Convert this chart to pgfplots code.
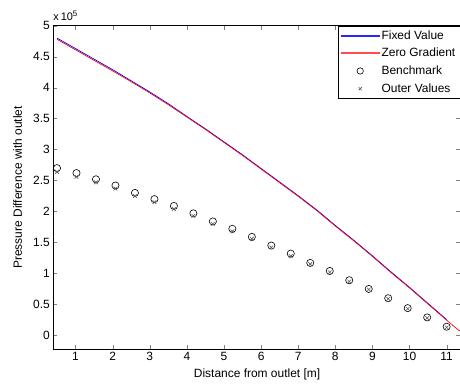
\documentclass[border=0pt]{standalone}
\usepackage{fontspec}
\setmainfont{Liberation Sans}
\usepackage{pgfplots}
\pgfplotsset{compat=1.18}
\usetikzlibrary{calc}
\pgfplotstableread{
x y
0.5 270000
1.025 262000
1.55 252000
2.075 242000
2.6 230000
3.125 220000
3.65 209000
4.175 197000
4.7 184000
5.225 172000
5.75 159000
6.275 145000
6.8 132000
7.325 117000
7.85 104000
8.375 89000
8.9 75000
9.425 60000
9.95 44000
10.475 29000
11.0 14000
}\bench
\pgfplotstableread{
x y
0.5 264000
1.025 256000
1.55 247000
2.075 237000
2.6 225000
3.125 215000
3.65 204000
4.175 193000
4.7 180000
5.225 168000
5.75 156000
6.275 142000
6.8 128000
7.325 115000
7.85 102000
8.375 87000
8.9 74000
9.425 59000
9.95 43000
10.475 28000
11.0 13000
}\outer
\pgfplotstableread{
x y
0.5 480000
1.0 463000
1.5 446000
2.0 429000
2.5 411000
3.0 393000
3.5 374000
4.0 353500
4.5 333500
5.0 312500
5.5 291500
6.0 269500
6.5 247500
7.0 225500
7.5 202500
8.0 177500
8.5 153500
9.0 128500
9.5 102500
10.0 77500
10.5 51500
11.0 25500
}\fixed
\pgfplotstableread{
x y
0.5 478000
1.0 461000
1.5 444000
2.0 427000
2.5 409500
3.0 391500
3.5 372500
4.0 352500
4.5 332500
5.0 311500
5.5 290500
6.0 268500
6.5 246500
7.0 224500
7.5 201500
8.0 176500
8.5 152500
9.0 127500
9.5 101500
10.0 76500
10.5 50500
11.0 24500
11.35 7000
}\zerog
\begin{document}
\begin{tikzpicture}
\begin{axis}[
  scale only axis,
  width=406.7bp, height=323.3bp,
  xmin=0.4, xmax=11.36,
  ymin=-22000, ymax=500000,
  xtick={1,2,...,11},
  ytick={0,50000,...,500000},
  scaled y ticks=base 10:-5,
  ytick scale label code/.code={x\,10\textsuperscript{\fontsize{8}{9}\selectfont #1}},
  every y tick scale label/.style={at={(rel axis cs:0,1)},anchor=south west,inner sep=0pt,yshift=5bp,font=\fontsize{11}{13}\selectfont},
  /pgf/number format/assume math mode=true,
  tick label style={font=\fontsize{12}{14}\selectfont},
  label style={font=\fontsize{12}{14}\selectfont},
  xlabel={Distance from outlet [m]},
  ylabel={Pressure Difference with outlet},
  x label style={at={(axis description cs:0.501,-0.080)},anchor=center},
  y label style={at={(axis description cs:-0.088,0.5)},anchor=center},
  major tick length=4bp,
  legend style={at={(rel axis cs:1,1)},anchor=north east,
    font=\fontsize{12}{14}\selectfont,row sep=3.6bp,inner sep=2.5bp},
  legend cell align=left,
  legend image code/.code={\draw[mark repeat=2,mark phase=2,#1] plot coordinates {(0bp,0bp) (19bp,0bp) (38bp,0bp)};},
]
\addplot[color=blue, line width=0.7bp, mark=none,
  legend image code/.code={\fill[blue!85] (0bp,-0.5bp) rectangle (38bp,0.5bp);}] table {\fixed};
\addlegendentry{Fixed Value}
\addplot[color=red, line width=0.7bp, mark=none,
  legend image code/.code={\fill[red!70] (0bp,-0.5bp) rectangle (38bp,0.5bp);}] table {\zerog};
\addlegendentry{Zero Gradient}
\addplot[color=black, only marks, mark=o, mark size=3.6bp, line width=0.6bp,
  legend image post style={mark size=3.2bp}] table {\bench};
\addlegendentry{Benchmark}
\addplot[color=black!65, only marks, mark=x, mark size=2.6bp, line width=0.6bp,
  legend image post style={mark size=2.2bp}] table {\outer};
\addlegendentry{Outer Values}
\coordinate (SW) at (rel axis cs:0,0);
\coordinate (NE) at (rel axis cs:1,1);
\end{axis}
\pgfresetboundingbox
\path ($(SW)+(-53.3bp,-40bp)$) rectangle ($(NE)+(0bp,25.7bp)$);
\end{tikzpicture}
\end{document}
